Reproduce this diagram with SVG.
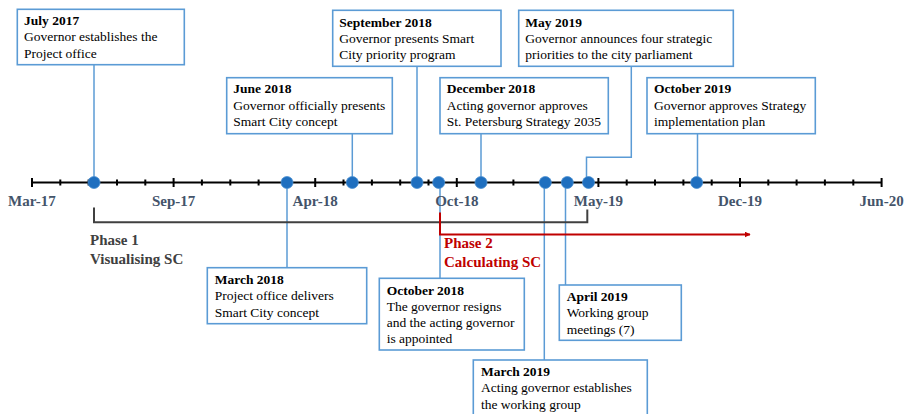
<svg xmlns="http://www.w3.org/2000/svg" width="904" height="414" viewBox="0 0 904 414">
<defs>
<style>
.box{fill:#fff;stroke:#5B9BD5;stroke-width:1.6}
.t{font-family:"Liberation Serif","Times New Roman",serif;font-size:13.5px;fill:#000}
.b{font-weight:bold}
.conn{fill:none;stroke:#5B9BD5;stroke-width:1.5}
.dot{fill:#1F6FBF;stroke:#4A8FD0;stroke-width:0.8}
.tick{stroke:#000;stroke-width:2}
.ax{font-family:"Liberation Serif","Times New Roman",serif;font-size:15px;font-weight:bold;fill:#44546A;text-anchor:middle}
.ph1{font-family:"Liberation Serif","Times New Roman",serif;font-size:15px;font-weight:bold;fill:#404040}
.ph2{font-family:"Liberation Serif","Times New Roman",serif;font-size:15px;font-weight:bold;fill:#C00000}
</style>
<marker id="arr" viewBox="0 0 10 10" refX="9" refY="5" markerWidth="3" markerHeight="3" orient="auto" markerUnits="strokeWidth">
<path d="M0,0 L10,5 L0,10 z" fill="#C00000"/>
</marker>
</defs>
<rect width="904" height="414" fill="#fff"/>

<g id="connectors">
<path class="conn" d="M94,65 V182"/>
<path class="conn" d="M352.3,134 V182"/>
<path class="conn" d="M417,66 V182"/>
<path class="conn" d="M481,134 V182"/>
<path class="conn" d="M631.3,66 V157.3 H586.5 V182"/>
<path class="conn" d="M697.5,134 V182"/>
<path class="conn" d="M287,182 V268"/>
<path class="conn" d="M440,182 V278.5"/>
<path class="conn" d="M565.5,182 V285"/>
<path class="conn" d="M544.3,182 V360"/>
<path d="M94,207.5 V222.3 H587.3 V209.5" fill="none" stroke="#404040" stroke-width="2"/>
<path d="M440,212.5 V234.5 H750" fill="none" stroke="#C00000" stroke-width="2" marker-end="url(#arr)"/>
</g>

<g id="axis">
<line x1="32" y1="182.5" x2="881.6" y2="182.5" stroke="#000" stroke-width="2"/>
<g class="tick">
<line x1="32" y1="178" x2="32" y2="187"/>
<line x1="173.6" y1="178" x2="173.6" y2="187"/>
<line x1="315.2" y1="178" x2="315.2" y2="187"/>
<line x1="456.8" y1="178" x2="456.8" y2="187"/>
<line x1="598.4" y1="178" x2="598.4" y2="187"/>
<line x1="740" y1="178" x2="740" y2="187"/>
<line x1="881.6" y1="178" x2="881.6" y2="187"/>
<line x1="60.3" y1="179.5" x2="60.3" y2="185.5"/>
<line x1="88.6" y1="179.5" x2="88.6" y2="185.5"/>
<line x1="117" y1="179.5" x2="117" y2="185.5"/>
<line x1="145.3" y1="179.5" x2="145.3" y2="185.5"/>
<line x1="201.9" y1="179.5" x2="201.9" y2="185.5"/>
<line x1="230.3" y1="179.5" x2="230.3" y2="185.5"/>
<line x1="258.6" y1="179.5" x2="258.6" y2="185.5"/>
<line x1="286.9" y1="179.5" x2="286.9" y2="185.5"/>
<line x1="343.5" y1="179.5" x2="343.5" y2="185.5"/>
<line x1="371.9" y1="179.5" x2="371.9" y2="185.5"/>
<line x1="400.2" y1="179.5" x2="400.2" y2="185.5"/>
<line x1="428.5" y1="179.5" x2="428.5" y2="185.5"/>
<line x1="485.1" y1="179.5" x2="485.1" y2="185.5"/>
<line x1="513.4" y1="179.5" x2="513.4" y2="185.5"/>
<line x1="541.8" y1="179.5" x2="541.8" y2="185.5"/>
<line x1="570.1" y1="179.5" x2="570.1" y2="185.5"/>
<line x1="626.7" y1="179.5" x2="626.7" y2="185.5"/>
<line x1="655" y1="179.5" x2="655" y2="185.5"/>
<line x1="683.4" y1="179.5" x2="683.4" y2="185.5"/>
<line x1="711.7" y1="179.5" x2="711.7" y2="185.5"/>
<line x1="768.3" y1="179.5" x2="768.3" y2="185.5"/>
<line x1="796.6" y1="179.5" x2="796.6" y2="185.5"/>
<line x1="824.9" y1="179.5" x2="824.9" y2="185.5"/>
<line x1="853.3" y1="179.5" x2="853.3" y2="185.5"/>
</g>
<text class="ax" x="32" y="205.5">Mar-17</text>
<text class="ax" x="173.6" y="205.5">Sep-17</text>
<text class="ax" x="315.2" y="205.5">Apr-18</text>
<text class="ax" x="456.8" y="205.5">Oct-18</text>
<text class="ax" x="598.4" y="205.5">May-19</text>
<text class="ax" x="740" y="205.5">Dec-19</text>
<text class="ax" x="881.6" y="205.5">Jun-20</text>
</g>

<g id="dots">
<circle class="dot" cx="94" cy="182.5" r="6"/>
<circle class="dot" cx="287" cy="182.5" r="6"/>
<circle class="dot" cx="352.3" cy="182.5" r="6"/>
<circle class="dot" cx="417" cy="182.5" r="6"/>
<circle class="dot" cx="438.7" cy="182.5" r="6"/>
<circle class="dot" cx="481" cy="182.5" r="6"/>
<circle class="dot" cx="545.3" cy="182.5" r="6"/>
<circle class="dot" cx="567.3" cy="182.5" r="6"/>
<circle class="dot" cx="588.5" cy="182.5" r="6"/>
<circle class="dot" cx="696.7" cy="182.5" r="6"/>
</g>

<g id="phase1">
<text class="ph1" x="90" y="245">Phase 1</text>
<text class="ph1" x="90" y="264">Visualising SC</text>
</g>
<g id="phase2">
<text class="ph2" x="444" y="248">Phase 2</text>
<text class="ph2" x="444" y="266.5">Calculating SC</text>
</g>

<g id="n-jul2017">
<rect class="box" x="17.3" y="9.3" width="167" height="55.4"/>
<text class="t b" x="24" y="25">July 2017</text>
<text class="t" x="24" y="41.3">Governor establishes the</text>
<text class="t" x="24" y="57.5">Project office</text>
</g>
<g id="n-jun2018">
<rect class="box" x="226.7" y="77.7" width="165.6" height="56"/>
<text class="t b" x="233.3" y="93.3">June 2018</text>
<text class="t" x="233.3" y="109.6">Governor officially presents</text>
<text class="t" x="233.3" y="125.9">Smart City concept</text>
</g>
<g id="n-sep2018">
<rect class="box" x="332.7" y="10.3" width="168.3" height="56"/>
<text class="t b" x="339.3" y="26.7">September 2018</text>
<text class="t" x="339.3" y="43">Governor presents Smart</text>
<text class="t" x="339.3" y="59.2">City priority program</text>
</g>
<g id="n-may2019">
<rect class="box" x="518.7" y="10.3" width="214.6" height="56"/>
<text class="t b" x="525.3" y="26.7">May 2019</text>
<text class="t" x="525.3" y="43">Governor announces four strategic</text>
<text class="t" x="525.3" y="59.2">priorities to the city parliament</text>
</g>
<g id="n-dec2018">
<rect class="box" x="440" y="77.7" width="168.3" height="56"/>
<text class="t b" x="446.7" y="93.3">December 2018</text>
<text class="t" x="446.7" y="109.6">Acting governor approves</text>
<text class="t" x="446.7" y="125.9">St. Petersburg Strategy 2035</text>
</g>
<g id="n-oct2019">
<rect class="box" x="647" y="77.7" width="168.3" height="56"/>
<text class="t b" x="654" y="93.3">October 2019</text>
<text class="t" x="654" y="109.6">Governor approves Strategy</text>
<text class="t" x="654" y="125.9">implementation plan</text>
</g>
<g id="n-mar2018">
<rect class="box" x="207.3" y="267.7" width="159.4" height="56"/>
<text class="t b" x="214.7" y="283.5">March 2018</text>
<text class="t" x="214.7" y="300">Project office delivers</text>
<text class="t" x="214.7" y="316.5">Smart City concept</text>
</g>
<g id="n-oct2018">
<rect class="box" x="379.3" y="278.3" width="145" height="71.7"/>
<text class="t b" x="386.7" y="294.7">October 2018</text>
<text class="t" x="386.7" y="311">The governor resigns</text>
<text class="t" x="386.7" y="327.2">and the acting governor</text>
<text class="t" x="386.7" y="343.4">is appointed</text>
</g>
<g id="n-apr2019">
<rect class="box" x="559.3" y="285" width="122" height="55.3"/>
<text class="t b" x="566.7" y="300.7">April 2019</text>
<text class="t" x="566.7" y="317.2">Working group</text>
<text class="t" x="566.7" y="333.8">meetings (7)</text>
</g>
<g id="n-mar2019">
<rect class="box" x="473.3" y="360" width="174" height="60"/>
<text class="t b" x="481" y="375.8">March 2019</text>
<text class="t" x="481" y="392.2">Acting governor establishes</text>
<text class="t" x="481" y="408.5">the working group</text>
</g>
</svg>
